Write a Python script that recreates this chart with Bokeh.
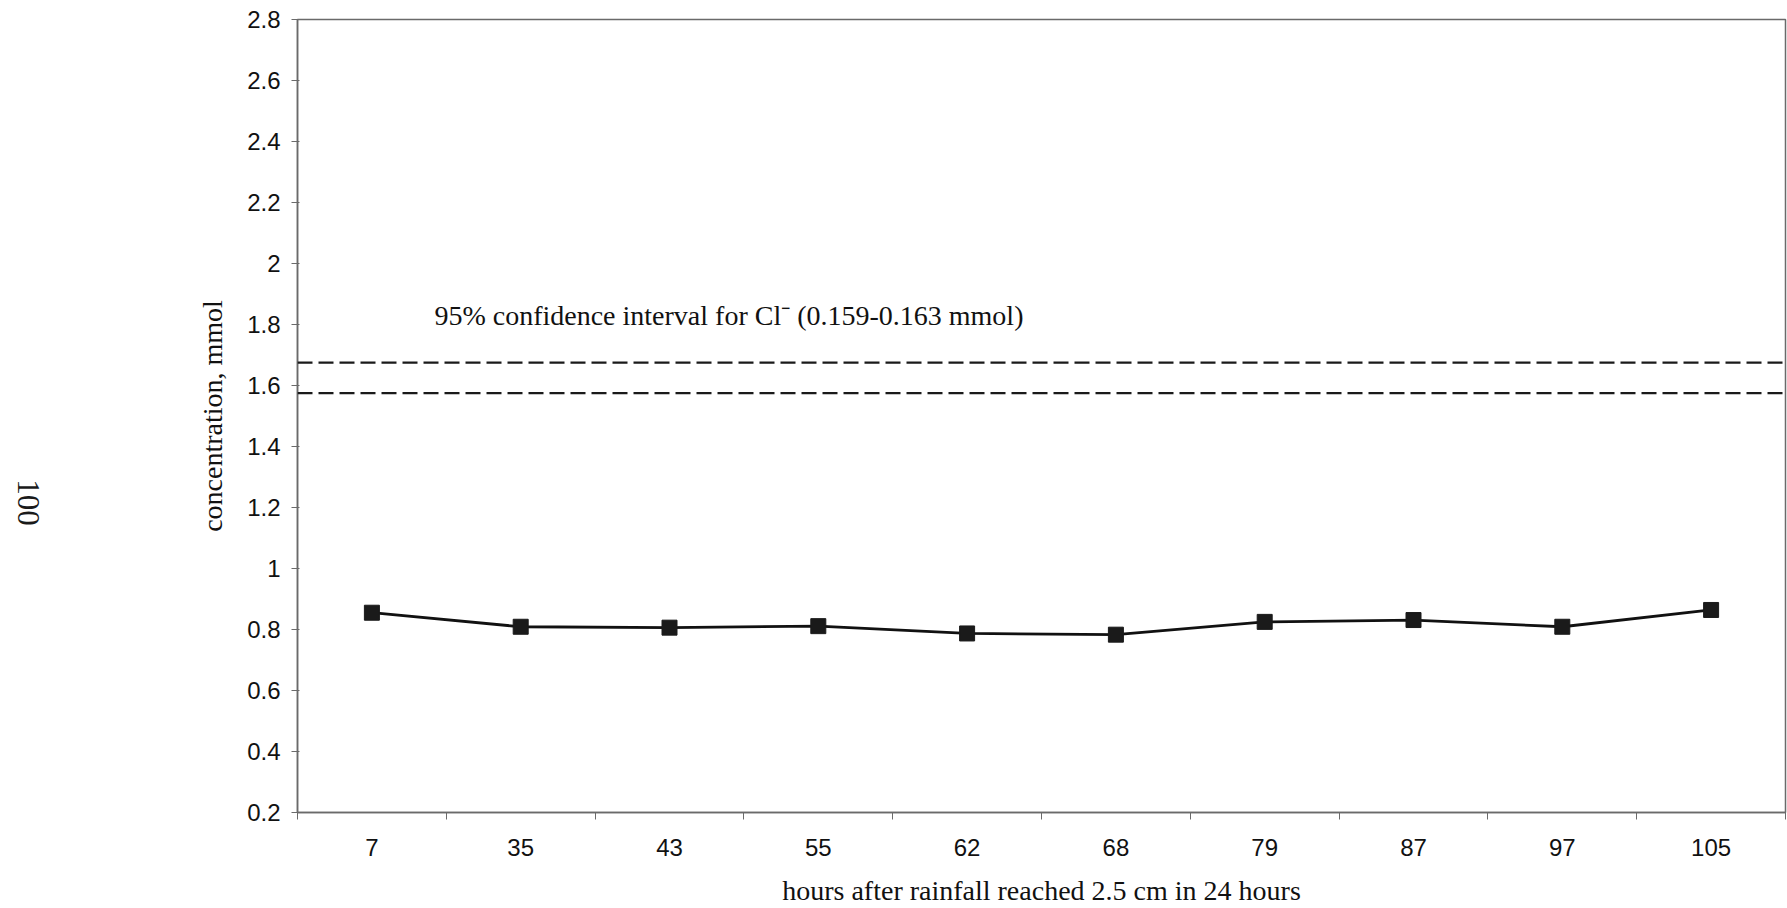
import math

from bokeh.core.properties import value
from bokeh.embed import file_html
from bokeh.layouts import row
from bokeh.models import ColumnDataSource, FixedTicker, Label, Range1d, Span
from bokeh.plotting import figure
from bokeh.resources import INLINE

# Sampling times (hours after rainfall reached 2.5 cm in 24 hours)
hours = ["7", "35", "43", "55", "62", "68", "79", "87", "97", "105"]
# Measured concentration, mmol
concentration = [0.855, 0.809, 0.806, 0.811, 0.787, 0.783, 0.825, 0.831, 0.809, 0.864]
# Bounds of the 95 % confidence interval drawn as dashed lines
ci_lower = 1.575
ci_upper = 1.675
ci_text = "95% confidence interval for Cl\u207b (0.159-0.163 mmol)"
# Value axis tick labels
y_tick_labels = ["0.2", "0.4", "0.6", "0.8", "1", "1.2", "1.4", "1.6", "1.8",
                 "2", "2.2", "2.4", "2.6", "2.8"]
page_number = "100"

SANS = "Liberation Sans"
SERIF = "Liberation Serif"
AXIS_COLOR = "#6a6a6a"
H = 908
MARGIN_W = 60

# narrow margin panel holding the page number, rotated along the page edge
margin = figure(
    width=MARGIN_W, height=H, output_backend="svg", toolbar_location=None,
    x_range=Range1d(0, MARGIN_W), y_range=Range1d(0, H),
    min_border=0,
)
margin.axis.visible = False
margin.grid.visible = False
margin.outline_line_color = None
margin.text(x=[28], y=[355], text=[page_number], angle=-math.pi / 2,
            text_font=value(SERIF), text_font_size="31px",
            text_color="#1a1a1a", text_align="center", text_baseline="middle")

# each sampling time occupies one slot; points sit in the middle of the slot
x_pos = [i + 0.5 for i in range(len(hours))]
src = ColumnDataSource(dict(x=x_pos, y=concentration))

p = figure(
    width=1787 - MARGIN_W, height=H,
    output_backend="svg", toolbar_location=None,
    x_range=Range1d(0, len(hours)), y_range=Range1d(0.2, 2.8),
    min_border_left=297 - MARGIN_W, min_border_right=2,
    min_border_top=19, min_border_bottom=96,
)
p.background_fill_color = "white"
p.border_fill_color = "white"
p.outline_line_color = AXIS_COLOR
p.outline_line_width = 1.5
p.xgrid.visible = False
p.ygrid.visible = False

# x axis: labels centred in slots, tick marks at slot boundaries
xa = p.xaxis[0]
xa.ticker = FixedTicker(ticks=x_pos, minor_ticks=list(range(len(hours) + 1)))
xa.major_label_overrides = {x: h for x, h in zip(x_pos, hours)}
xa.major_tick_in = 0
xa.major_tick_out = 0
xa.minor_tick_in = 0
xa.minor_tick_out = 7
xa.minor_tick_line_color = AXIS_COLOR
xa.axis_line_color = AXIS_COLOR
xa.axis_line_width = 1.5
xa.major_label_standoff = 19
xa.major_label_text_font = SANS
xa.major_label_text_font_size = "24px"
xa.major_label_text_color = "#111111"
xa.axis_label = "hours after rainfall reached 2.5 cm in 24 hours"
xa.axis_label_text_font = SERIF
xa.axis_label_text_font_style = "normal"
xa.axis_label_text_font_size = "28px"
xa.axis_label_text_color = "#111111"
xa.axis_label_standoff = 16

# y axis
ya = p.yaxis[0]
y_ticks = [float(s) for s in y_tick_labels]
ya.ticker = FixedTicker(ticks=y_ticks, minor_ticks=[])
ya.major_label_overrides = {v: s for v, s in zip(y_ticks, y_tick_labels)}
ya.major_tick_in = 2
ya.major_tick_out = 6
ya.major_tick_line_color = AXIS_COLOR
ya.axis_line_color = AXIS_COLOR
ya.axis_line_width = 1.5
ya.major_label_standoff = 11
ya.major_label_text_font = SANS
ya.major_label_text_font_size = "24px"
ya.major_label_text_color = "#111111"
ya.axis_label = "concentration, mmol"
ya.axis_label_text_font = SERIF
ya.axis_label_text_font_style = "normal"
ya.axis_label_text_font_size = "28px"
ya.axis_label_text_color = "#111111"
ya.axis_label_standoff = 16

# confidence interval bounds
for level in (ci_upper, ci_lower):
    p.add_layout(Span(location=level, dimension="width", line_color="#1a1a1a",
                      line_width=2.4, line_dash="15 6"))

p.add_layout(Label(x=0.92, y=1.83, text=ci_text, text_font=SERIF,
                   text_font_size="28px", text_color="#111111",
                   text_baseline="alphabetic"))

# measured series
p.line("x", "y", source=src, line_color="#111111", line_width=2.8)
p.scatter("x", "y", source=src, marker="square", size=15,
          fill_color="#1a1a1a", line_color="#1a1a1a")

layout = row(margin, p, spacing=0)
open("out.html", "w").write(file_html(layout, INLINE))
